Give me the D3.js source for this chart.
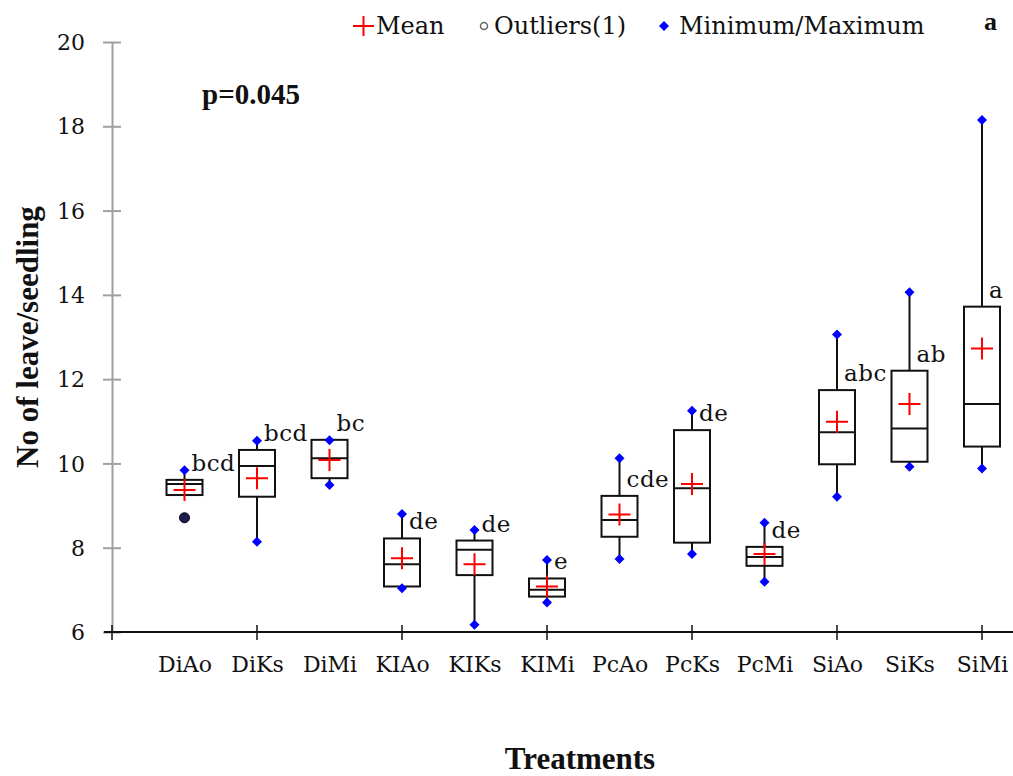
<!DOCTYPE html>
<html lang="en">
<head>
  <meta charset="utf-8"/>
  <title>No of leave/seedling by treatment</title>
  <script src="https://d3js.org/d3.v7.min.js"></script>
  <style>
    body { margin: 0; background: #fff; }
    svg { display: block; }
    .tick-text { font-family: "DejaVu Serif", serif; font-size: 22px; fill: #111; }
    .bold-title { font-family: "Liberation Serif", serif; font-weight: bold; fill: #111; }
  </style>
</head>
<body>
  <div id="chart"></div>

  <script>
    // values
    var treatments = ['DiAo', 'DiKs', 'DiMi', 'KIAo', 'KIKs', 'KIMi', 'PcAo', 'PcKs', 'PcMi', 'SiAo', 'SiKs', 'SiMi'];
    var minimums = [8.71, 8.14, 9.49, 7.04, 6.17, 6.70, 7.73, 7.85, 7.19, 9.21, 9.92, 9.88];
    var quartile1 = [9.25, 9.21, 9.65, 7.08, 7.35, 6.84, 8.26, 8.12, 7.57, 9.98, 10.04, 10.40];
    var medians = [9.51, 9.94, 10.12, 7.61, 7.95, 7.00, 8.66, 9.41, 7.78, 10.74, 10.83, 11.41];
    var quartile3 = [9.61, 10.32, 10.56, 8.22, 8.17, 7.27, 9.23, 10.79, 8.02, 11.74, 12.20, 13.72];
    var maximums = [9.84, 10.54, 10.55, 8.80, 8.42, 7.71, 10.12, 11.25, 8.59, 13.06, 14.06, 18.15];
    var means = [9.37, 9.65, 10.08, 7.75, 7.61, 7.08, 8.79, 9.51, 7.85, 10.99, 11.41, 12.73];
    var groups = ['bcd', 'bcd', 'bc', 'de', 'de', 'e', 'cde', 'de', 'de', 'abc', 'ab', 'a'];
    var outliers = [[8.71], [], [], [], [], [], [], [], [], [], [], []];
    var yTicks = [6, 8, 10, 12, 14, 16, 18, 20];
    var legendItems = ['Mean', 'Outliers(1)', 'Minimum/Maximum'];
    var pValue = 'p=0.045';

    var width = 1013, height = 776;
    var svg = d3.select('#chart').append('svg')
                .attr('width', width)
                .attr('height', height);

    var x0 = 112;
    var y = d3.scaleLinear().domain([6, 20]).range([632, 42]);
    var x = d3.scalePoint().domain(treatments).range([184.5, 982]);

    var data = treatments.map(function(t, i) {
      return { name: t, min: minimums[i], q1: quartile1[i], med: medians[i], q3: quartile3[i],
               max: maximums[i], mean: means[i], group: groups[i], out: outliers[i] };
    });

    // y axis (grey)
    var yAxis = svg.append('g')
       .attr('transform', 'translate(' + x0 + ',0)')
       .call(d3.axisLeft(y).tickValues(yTicks).tickSize(0).tickPadding(27));
    yAxis.select('.domain').attr('stroke', '#a0a0a0').attr('stroke-width', 2);
    yAxis.selectAll('text').attr('class', 'tick-text').attr('dy', '0.35em');
    yAxis.selectAll('.tick').append('line')
       .attr('x1', -9).attr('x2', 9)
       .attr('stroke', '#a0a0a0').attr('stroke-width', 2);

    // x axis (black)
    svg.append('line')
       .attr('x1', x0 - 8).attr('x2', width)
       .attr('y1', y(6)).attr('y2', y(6))
       .attr('stroke', '#111').attr('stroke-width', 2);
    var xTickPos = [x0].concat(treatments.filter(function(d, i) { return i % 2 === 1; }).map(x));
    svg.selectAll('.xtick').data(xTickPos).enter().append('line')
       .attr('x1', function(d) { return d; }).attr('x2', function(d) { return d; })
       .attr('y1', y(6) - 7).attr('y2', y(6) + 8)
       .attr('stroke', '#111').attr('stroke-width', 1.5);
    var xAxis = svg.append('g')
       .attr('transform', 'translate(0,' + y(6) + ')')
       .call(d3.axisBottom(x).tickSize(0).tickPadding(24));
    xAxis.select('.domain').remove();
    xAxis.selectAll('text').attr('class', 'tick-text');

    // boxes
    var boxW = 36;
    var g = svg.selectAll('.box').data(data).enter().append('g')
       .attr('transform', function(d) { return 'translate(' + x(d.name) + ',0)'; });

    g.append('line')
       .attr('y1', function(d) { return y(d.max); })
       .attr('y2', function(d) { return y(d.q3); })
       .attr('stroke', '#111').attr('stroke-width', 2);
    g.append('line')
       .attr('y1', function(d) { return y(d.q1); })
       .attr('y2', function(d) { return d.out.length ? y(d.q1) : y(d.min); })
       .attr('stroke', '#111').attr('stroke-width', 2);
    g.append('rect')
       .attr('x', -boxW / 2).attr('width', boxW)
       .attr('y', function(d) { return y(d.q3); })
       .attr('height', function(d) { return y(d.q1) - y(d.q3); })
       .attr('fill', 'none').attr('stroke', '#111').attr('stroke-width', 2);
    g.append('line')
       .attr('x1', -boxW / 2).attr('x2', boxW / 2)
       .attr('y1', function(d) { return y(d.med); })
       .attr('y2', function(d) { return y(d.med); })
       .attr('stroke', '#111').attr('stroke-width', 2);

    // square diamond like the original
    var diamond = 'M0,-5L5,0L0,5L-5,0Z';
    g.selectAll('.mm').data(function(d) { return [d.min, d.max]; }).enter().append('path')
       .attr('d', diamond)
       .attr('transform', function(v) { return 'translate(0,' + y(v) + ')'; })
       .attr('fill', '#0000ff');

    g.selectAll('.out').data(function(d) { return d.out; }).enter().append('circle')
       .attr('cy', function(v) { return y(v); })
       .attr('r', 5).attr('fill', '#1c1c55').attr('stroke', '#000').attr('stroke-width', 1);

    // mean crosses
    g.append('path')
       .attr('d', function(d) { var m = y(d.mean); return 'M-11,' + m + 'H11M0,' + (m - 11) + 'V' + (m + 11); })
       .attr('stroke', '#ff0000').attr('stroke-width', 2).attr('fill', 'none');

    // group letters
    g.append('text')
       .attr('class', 'tick-text')
       .attr('x', 7)
       .attr('y', function(d) { return y(d.q3) - 9; })
       .style('font-size', '23px')
       .style('letter-spacing', '0.5px')
       .text(function(d) { return d.group; });

    // legend
    var leg = svg.append('g').attr('class', 'tick-text').style('font-size', '24px');
    leg.append('path').attr('d', 'M353,26H374M363.5,16V36').attr('stroke', '#ff0000').attr('stroke-width', 2);
    leg.append('text').attr('x', 376).attr('y', 34).text(legendItems[0]);
    leg.append('circle').attr('cx', 484).attr('cy', 26).attr('r', 3.5)
       .attr('fill', '#fff').attr('stroke', '#666').attr('stroke-width', 1.5);
    leg.append('text').attr('x', 494).attr('y', 34).text(legendItems[1]);
    leg.append('path').attr('d', diamond).attr('transform', 'translate(664,26)').attr('fill', '#0000ff');
    leg.append('text').attr('x', 679).attr('y', 34).text(legendItems[2]);

    svg.append('text').attr('class', 'bold-title')
       .attr('x', 984).attr('y', 30).style('font-size', '26px').text('a');

    svg.append('text').attr('class', 'bold-title')
       .attr('x', 202).attr('y', 104).style('font-size', '29px').text(pValue);

    // axis titles
    svg.append('text').attr('class', 'bold-title')
       .attr('x', 580).attr('y', 769).attr('text-anchor', 'middle')
       .style('font-size', '31px').text('Treatments');
    svg.append('text').attr('class', 'bold-title')
       .attr('transform', 'translate(38,337) rotate(-90)')
       .attr('text-anchor', 'middle')
       .style('font-size', '31px').text('No of leave/seedling');
  </script>
</body>
</html>
